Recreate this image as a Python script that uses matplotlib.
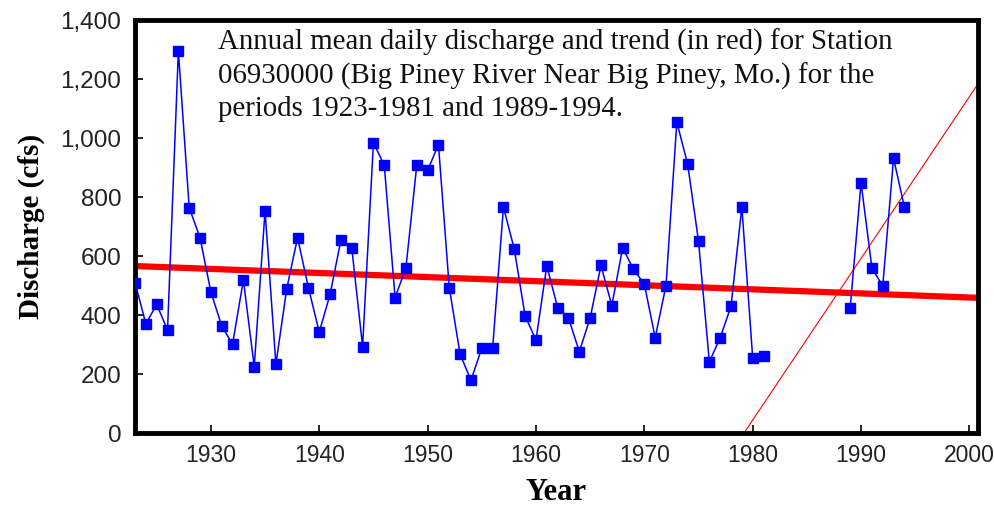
import matplotlib
matplotlib.use("Agg")
import matplotlib.pyplot as plt
import numpy as np

years_a = list(range(1923, 1982))
discharge_a = [510, 370, 436, 349, 1295, 764, 662, 478, 363, 301, 519, 225, 753, 233,
               489, 662, 493, 342, 470, 654, 628, 293, 984, 908, 459, 560, 908, 890,
               978, 493, 267, 179, 287, 287, 766, 623, 397, 315, 567, 425, 390, 276,
               390, 568, 432, 628, 555, 505, 323, 500, 1054, 911, 651, 241, 323, 430,
               766, 255, 261]
years_b = list(range(1989, 1995))
discharge_b = [425, 848, 560, 498, 931, 766]

trend_years = [1923, 2001]
trend_values = [566, 458]

trend2_years = [1979.2, 2001]
trend2_values = [0, 1195]

xticks = [1930, 1940, 1950, 1960, 1970, 1980, 1990, 2000]
yticks = [0, 200, 400, 600, 800, 1000, 1200, 1400]
ytick_labels = ["0", "200", "400", "600", "800", "1,000", "1,200", "1,400"]

note = ("Annual mean daily discharge and trend (in red) for Station\n"
        "06930000 (Big Piney River Near Big Piney, Mo.) for the\n"
        "periods 1923-1981 and 1989-1994.")

fig = plt.figure(figsize=(9.95, 5.08), dpi=100)
ax = fig.add_axes([0.1357, 0.1476, 0.8473, 0.813])

blue = "#0000FF"
ax.plot(years_a + [np.nan] + years_b, discharge_a + [np.nan] + discharge_b,
        color=blue, lw=1.1, marker="s", ms=7, mfc=blue, mec=blue, zorder=3)
ax.plot(trend_years, trend_values, color="#FF0000", lw=4.5, zorder=2,
        solid_capstyle="butt")
ax.plot(trend2_years, trend2_values, color="#FF0000", lw=0.8, zorder=2)

ax.set_xlim(1923, 2000.8)
ax.set_ylim(0, 1400)
ax.set_xticks(xticks)
ax.set_yticks(yticks)
ax.set_yticklabels(ytick_labels)
ax.tick_params(direction="in", length=6, width=1.2, labelcolor="#222222")
ax.tick_params(axis="x", labelsize=16.5, pad=8)
ax.tick_params(axis="y", labelsize=17.5, pad=10)
for lbl in ax.get_xticklabels() + ax.get_yticklabels():
    lbl.set_family("Liberation Sans")
for s in ax.spines.values():
    s.set_linewidth(3.5)

ax.set_xlabel("Year", fontsize=22, fontweight="bold", family="Liberation Serif",
              labelpad=8)
ax.set_ylabel("Discharge (cfs)", fontsize=21, fontweight="bold",
              family="Liberation Serif", labelpad=11)

ax.text(0.098, 0.978, note, transform=ax.transAxes, ha="left", va="top",
        fontsize=20.8, family="Liberation Serif", linespacing=1.3, color="#111111")

fig.savefig("out.png", dpi=100)
